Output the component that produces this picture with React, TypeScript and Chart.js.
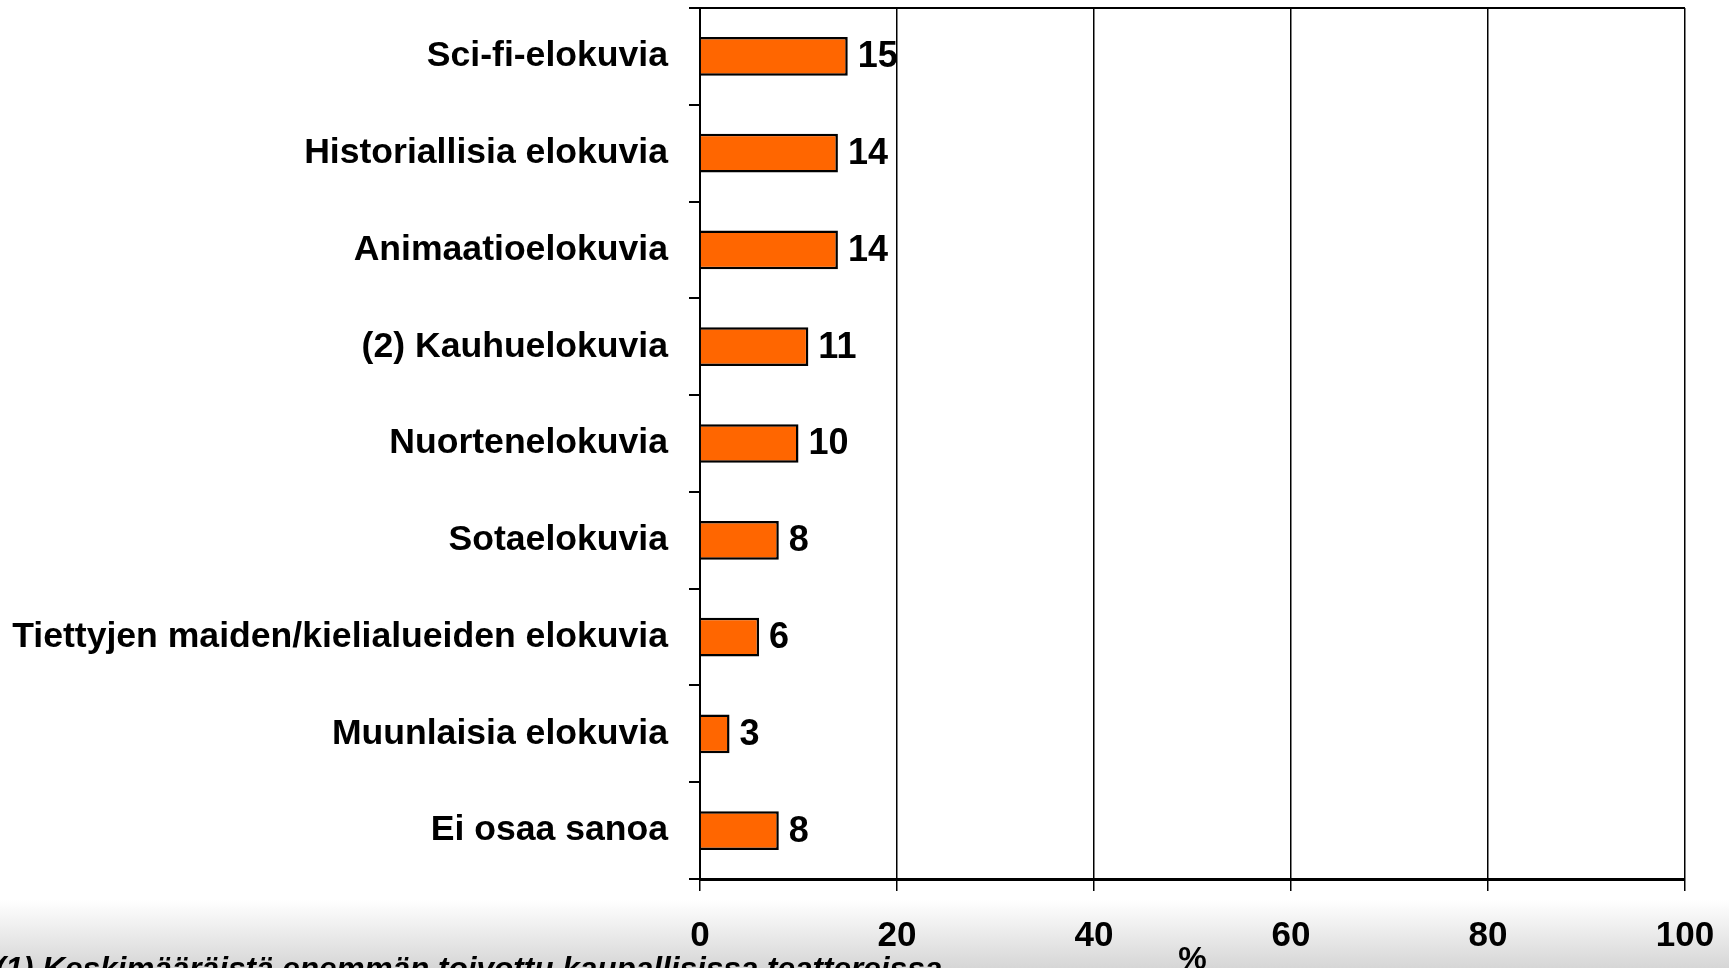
import React, { useEffect, useRef } from "react";
import { Chart, registerables } from "chart.js";

Chart.register(...registerables);

const categories = [
  "Sci-fi-elokuvia",
  "Historiallisia elokuvia",
  "Animaatioelokuvia",
  "(2) Kauhuelokuvia",
  "Nuortenelokuvia",
  "Sotaelokuvia",
  "Tiettyjen maiden/kielialueiden elokuvia",
  "Muunlaisia elokuvia",
  "Ei osaa sanoa",
];
const values = [15, 14, 14, 11, 10, 8, 6, 3, 8];
const xTicks = [0, 20, 40, 60, 80, 100];
const axisTitle = "%";
const footnote = "(1) Keskimääräistä enemmän toivottu kaupallisissa teattereissa";

const FONT = "'Liberation Sans', Arial, Helvetica, sans-serif";

const valueLabels = {
  id: "valueLabels",
  afterDatasetsDraw(chart: any) {
    const ctx = chart.ctx;
    const meta = chart.getDatasetMeta(0);
    ctx.save();
    ctx.font = `bold 36px ${FONT}`;
    ctx.fillStyle = "#000";
    ctx.textAlign = "left";
    ctx.textBaseline = "middle";
    meta.data.forEach((bar: any, i: number) => {
      ctx.fillText(String(values[i]), bar.x + 10, bar.y + 1);
    });
    ctx.restore();
  },
};

const topBorder = {
  id: "topBorder",
  afterDraw(chart: any) {
    const { ctx, chartArea } = chart;
    ctx.save();
    ctx.strokeStyle = "#000";
    ctx.lineWidth = 2;
    ctx.beginPath();
    ctx.moveTo(chartArea.left, chartArea.top);
    ctx.lineTo(chartArea.right, chartArea.top);
    ctx.stroke();
    ctx.restore();
  },
};

export default function App() {
  const canvasRef = useRef<HTMLCanvasElement | null>(null);

  useEffect(() => {
    if (!canvasRef.current) return;
    const chart = new Chart(canvasRef.current, {
      type: "bar",
      data: {
        labels: categories,
        datasets: [
          {
            data: values,
            backgroundColor: "#FF6600",
            borderColor: "#000",
            borderWidth: 2.5,
            barPercentage: 0.4,
            categoryPercentage: 1,
          },
        ],
      },
      options: {
        indexAxis: "y",
        responsive: false,
        maintainAspectRatio: false,
        animation: false,
        layout: { padding: { top: 8, right: 44, left: 0, bottom: 0 } },
        plugins: {
          legend: { display: false },
          tooltip: { enabled: false },
        },
        scales: {
          x: {
            type: "linear",
            position: "bottom",
            min: 0,
            max: 100,
            afterBuildTicks: (scale: any) => {
              scale.ticks = xTicks.map((v) => ({ value: v }));
            },
            afterFit: (scale: any) => {
              scale.height = 131;
              scale.paddingLeft = 0;
              scale.paddingRight = 0;
            },
            grid: { color: "#000", lineWidth: 1.5, tickLength: 12, drawTicks: true },
            border: { color: "#000", width: 3 },
            ticks: {
              color: "#000",
              font: { family: FONT, size: 35, weight: "bold" },
              padding: 24,
              maxRotation: 0,
            },
            title: {
              display: true,
              text: axisTitle,
              color: "#000",
              font: { family: FONT, size: 32, weight: "bold" },
              padding: { top: 0, bottom: 31 },
            },
          },
          y: {
            afterFit: (scale: any) => {
              scale.width = 700;
              scale.paddingTop = 0;
              scale.paddingBottom = 0;
            },
            grid: {
              drawOnChartArea: false,
              color: "#000",
              lineWidth: 2,
              tickLength: 11,
              offset: true,
            },
            border: { color: "#000", width: 2 },
            ticks: {
              color: "#000",
              font: { family: FONT, size: 35.6, weight: "bold" },
              padding: 21,
            },
          },
        },
      } as any,
      plugins: [valueLabels, topBorder],
    });
    return () => chart.destroy();
  }, []);

  return (
    <div
      style={{
        position: "fixed",
        left: 0,
        top: 0,
        width: 1729,
        height: 968,
        overflow: "hidden",
        background:
          "linear-gradient(to bottom, #ffffff 0px, #ffffff 900px, #d6d6d6 968px)",
      }}
    >
      <canvas
        ref={canvasRef}
        width={1729}
        height={1010}
        style={{ position: "absolute", left: 0, top: 0, display: "block" }}
      />
      <div
        style={{
          position: "absolute",
          left: -5,
          top: 953,
          fontFamily: FONT,
          fontSize: 31.5,
          fontWeight: "bold",
          fontStyle: "italic",
          lineHeight: 1,
          whiteSpace: "nowrap",
          color: "#000",
        }}
      >
        {footnote}
      </div>
    </div>
  );
}
